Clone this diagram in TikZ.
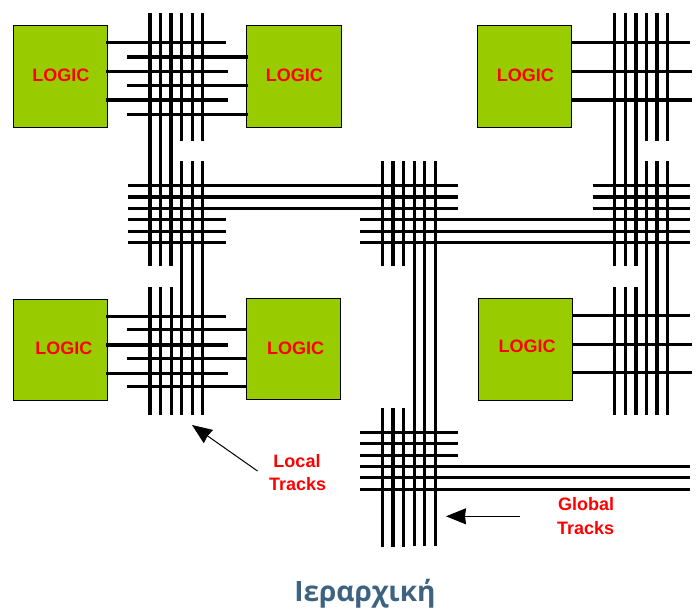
\documentclass[tikz,border=0pt]{standalone}
\usepackage{fontspec}
\setmainfont{Liberation Sans}
\newfontfamily\titlefont{Open Sans}
\usetikzlibrary{arrows.meta}
\definecolor{logicgreen}{RGB}{153,204,0}
\definecolor{titleblue}{RGB}{62,99,128}
\begin{document}
\begin{tikzpicture}[x=1pt,y=-1pt,
  logic/.style={draw,line width=1pt,fill=logicgreen,inner sep=0pt,outer sep=0pt,anchor=north west},
  logictext/.style={font=\fontsize{18}{20}\selectfont\bfseries,text=red,inner sep=0pt},
  lbl/.style={font=\fontsize{18}{20}\selectfont\bfseries,text=red,inner sep=0pt},
  ar/.style={-{Stealth[length=20pt,width=16pt,inset=1pt]},line width=1pt}]
\useasboundingbox (0,0) rectangle (698,614);
% logic blocks
\node[logic,minimum width=94pt,minimum height=102pt]  (la) at (13.5,25.5)  {};
\node[logic,minimum width=95pt,minimum height=102pt]  (lb) at (246.5,25.5) {};
\node[logic,minimum width=94pt,minimum height=102pt]  (lc) at (477.5,25.5) {};
\node[logic,minimum width=94pt,minimum height=101pt]  (ld) at (13.5,299.3) {};
\node[logic,minimum width=94pt,minimum height=101pt]  (le) at (246.5,298.5) {};
\node[logic,minimum width=94pt,minimum height=102pt]  (lf) at (478.5,298.5) {};
\node[logictext] (ta) at (60.8,75)    {LOGIC};
\node[logictext] (tb) at (294.3,75)   {LOGIC};
\node[logictext] (tc) at (525.3,75)   {LOGIC};
\node[logictext] (td) at (63.8,348.3) {LOGIC};
\node[logictext] (te) at (295.5,348.3) {LOGIC};
\node[logictext] (tf) at (527.2,346.7) {LOGIC};
% vertical tracks, x / top / bottom / width
\foreach \x/\ya/\yb/\w in {
  150/13/266/3.8, 160.3/13/266/3, 171/13/266/3.8,
  150/287/415/3.8, 160.3/287/415/3, 171/287/415/3,
  181.3/13/141/3, 192.3/13/141/3, 202.3/13/141/3,
  181.3/161/415/3, 192.3/161/415/3, 202.3/161/415/3,
  382.3/161/266/3, 393/161/266/3.8, 403.3/161/266/3,
  382.3/408/547/3, 393/408/547/3.8, 403.3/408/547/3,
  414/161/546/3, 424.3/161/546/3.4, 435.3/161/546/3,
  614.3/13/266/3, 625.3/13/266/3, 636/13/266/3.8,
  614.3/287/415/3, 625.3/287/415/3, 636/287/415/3.8,
  646.3/13/141/3, 657/13/141/3.8, 667.3/13/141/3,
  646.3/161/415/3, 657/161/415/3.8, 667.3/161/415/3}
  \draw[line width=\w pt] (\x,\ya) -- (\x,\yb);
% horizontal tracks, left / right / y / width
\foreach \xa/\xb/\y/\w in {
  106/225.5/42.3/3, 127/248/57/3.4, 106/228/71.3/3,
  127/248/85.3/3, 106/228/99.7/3.6, 127/248/114.3/3,
  571/689.5/42.3/3, 571/692/71.3/3, 571/692/99.7/3.6,
  106/225.5/316/3, 127/247/329.3/3, 106/228/344.7/3.6,
  127/247/358/3, 106/228/373.3/3, 127/247/386.3/3,
  571.5/689.5/315.7/3.4, 571.5/692/344/3, 571.5/692/372.7/3.4,
  127.5/457.5/185.3/3, 127.5/457.5/197/3.8, 127.5/457.5/208.3/3,
  127.5/225.5/219.3/3, 127.5/225.5/231/3, 127.5/225.5/242.3/3,
  360/690/219.3/3, 360/690/231/3, 360/690/242.3/3,
  592.5/690/185.3/3, 592.5/690/197/3.6, 592.5/690/208.3/3,
  360/457.7/432/3, 360/457.7/443.3/3, 360/457.7/455/3,
  360/690/466.3/3, 360/690/477.3/3, 360/690/489.3/3}
  \draw[line width=\w pt] (\xa,\y) -- (\xb,\y);
% labels and pointers
\node[lbl] (lo) at (297,461)     {Local};
\node[lbl] (lt) at (297.7,484.3) {Tracks};
\node[lbl] (go) at (586,504.3)   {Global};
\node[lbl] (gt) at (585.7,528.3) {Tracks};
\coordinate (ltail) at (257.5,471);
\coordinate (lhead) at (192,425);
\coordinate (gtail) at (520,516.3);
\coordinate (ghead) at (446,516.3);
\draw[ar] (ltail) -- (lhead);
\draw[ar] (gtail) -- (ghead);
\node[font=\titlefont\fontsize{28}{30}\selectfont\bfseries,text=titleblue,inner sep=0pt,anchor=base] (title) at (365,601.7) {Ιεραρχική};
\end{tikzpicture}
\end{document}
